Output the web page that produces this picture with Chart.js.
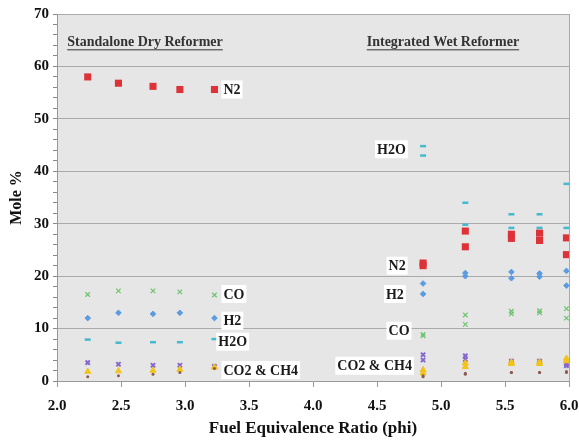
<!DOCTYPE html>
<html>
<head>
<meta charset="utf-8">
<script src="https://cdn.jsdelivr.net/npm/chart.js@4/dist/chart.umd.min.js"></script>
<style>
html,body{margin:0;padding:0;background:#fff;}
#wrap{width:579px;height:441px;position:relative;}
</style>
</head>
<body>
<div id="wrap"><canvas id="c" width="579" height="441"></canvas></div>
<script>
// ---- Data ----
const dryX = [2.24, 2.48, 2.75, 2.96, 3.23];
const wetX = [4.86, 4.86, 5.19, 5.19, 5.55, 5.55, 5.77, 5.77, 5.98, 5.98];

const dryN2  = [58.0, 56.8, 56.2, 55.6, 55.6];
const dryCO  = [16.5, 17.2, 17.2, 17.0, 16.4];
const dryH2  = [12.0, 13.0, 12.8, 13.0, 12.0];
const dryH2O = [7.9, 7.3, 7.4, 7.4, 8.0];
const dryCO2 = [3.5, 3.2, 3.0, 3.0, 2.8];
const dryCH4 = [1.8, 1.9, 2.0, 2.2, 2.6];
const dryOther = [0.8, 1.0, 1.3, 1.6, 2.4];

const wetH2O = [44.8, 43.0, 34.0, 29.8, 31.8, 29.2, 31.8, 29.2, 37.6, 29.2];
const wetN2  = [22.5, 22.0, 28.6, 25.6, 28.0, 27.2, 28.2, 26.8, 27.3, 24.1];
const wetH2  = [18.6, 16.6, 20.6, 20.0, 20.8, 19.6, 20.5, 19.9, 21.0, 18.2];
const wetCO  = [8.9, 8.6, 12.6, 10.8, 13.3, 12.8, 13.4, 13.0, 13.8, 12.0];
const wetCO2 = [5.0, 4.0, 4.8, 4.1, 3.8, 3.4, 3.8, 3.4, 3.2, 2.9];
const wetCH4 = [2.1, 1.5, 3.4, 2.7, 3.6, 3.3, 3.6, 3.3, 4.3, 3.8];
const wetOther = [0.8, 1.0, 1.3, 1.5, 1.6, 1.6, 1.6, 1.6, 1.6, 1.8];

// Text annotations
const noteTexts = ["N2", "CO", "H2", "H2O", "CO2 & CH4", "H2O", "N2", "H2", "CO", "CO2 & CH4"];
const noteX = [3.30, 3.30, 3.30, 3.26, 3.30, 4.50, 4.59, 4.57, 4.59, 4.19];
const noteY = [55.6, 16.6, 11.5, 7.5, 2.1, 44.2, 22.0, 16.6, 9.6, 2.9];
const headTexts = ["Standalone Dry Reformer", "Integrated Wet Reformer"];
const headX = [2.08, 4.42];
const headY = [64.6, 64.6];

const xTitle = "Fuel Equivalence Ratio (phi)";
const yTitle = "Mole %";

// ---- Build ----
function pts(xa, ya){ return xa.map((x,i)=>({x:x, y:ya[i]})); }
function both(d, w){ return pts(dryX, d).concat(pts(wetX, w)); }

const FONT = "'Liberation Serif', 'DejaVu Serif', serif";

const datasets = [
  {label:"Other", data: both(dryOther, wetOther), pointStyle:'circle', pointRadius:1.5, backgroundColor:'#8a5a50', borderColor:'#8a5a50', borderWidth:0},
  {label:"CH4", data: both(dryCH4, wetCH4), pointStyle:'triangle', pointRadius:3.5, backgroundColor:'#f2c318', borderColor:'#f2c318', borderWidth:1},
  {label:"CO2", data: both(dryCO2, wetCO2), pointStyle:'crossRot', pointRadius:3, backgroundColor:'#8466cc', borderColor:'#8466cc', borderWidth:2},
  {label:"H2O", data: both(dryH2O, wetH2O), pointStyle:'line', pointRadius:3, backgroundColor:'#45b9cf', borderColor:'#45b9cf', borderWidth:2.5},
  {label:"H2", data: both(dryH2, wetH2), pointStyle:'rectRot', pointRadius:2.8, backgroundColor:'#5b9be0', borderColor:'#5b9be0', borderWidth:1},
  {label:"CO", data: both(dryCO, wetCO), pointStyle:'crossRot', pointRadius:3.2, backgroundColor:'#6cc46c', borderColor:'#6cc46c', borderWidth:1.2},
  {label:"N2", data: both(dryN2, wetN2), pointStyle:'rect', pointRadius:5, backgroundColor:'#dc3238', borderColor:'#dc3238', borderWidth:0}
];

const bgPlugin = {
  id:'bg',
  beforeDraw(chart){
    const {ctx, chartArea:a} = chart;
    ctx.save();
    ctx.fillStyle = '#e6e6e6';
    ctx.fillRect(a.left, a.top, a.right - a.left, a.bottom - a.top);
    ctx.restore();
  },
  afterDraw(chart){
    const {ctx, chartArea:a} = chart;
    ctx.save();
    ctx.strokeStyle = '#a8a8a8';
    ctx.lineWidth = 1;
    ctx.beginPath();
    ctx.moveTo(Math.round(a.right)+0.5, a.top);
    ctx.lineTo(Math.round(a.right)+0.5, a.bottom);
    ctx.stroke();
    ctx.restore();
  }
};

const notePlugin = {
  id:'notes',
  afterDatasetsDraw(chart){
    const {ctx, scales:{x, y}} = chart;
    ctx.save();
    ctx.textBaseline = 'middle';
    ctx.textAlign = 'left';
    ctx.font = "bold 14px " + FONT;
    noteTexts.forEach((t,i)=>{
      const px = x.getPixelForValue(noteX[i]);
      const py = y.getPixelForValue(noteY[i]);
      const w = ctx.measureText(t).width;
      ctx.fillStyle = '#ffffff';
      ctx.fillRect(px - 2, py - 9, w + 4, 18);
      ctx.fillStyle = '#1a1a1a';
      ctx.fillText(t, px, py + 1);
    });
    ctx.font = "bold 14px " + FONT;
    headTexts.forEach((t,i)=>{
      const px = x.getPixelForValue(headX[i]);
      const py = y.getPixelForValue(headY[i]);
      const w = ctx.measureText(t).width;
      ctx.fillStyle = '#333333';
      ctx.fillText(t, px, py);
      ctx.fillRect(px, py + 7, w, 1);
    });
    ctx.restore();
  }
};

new Chart(document.getElementById('c'), {
  type:'scatter',
  data:{datasets},
  options:{
    responsive:false,
    animation:false,
    layout:{padding:{top:14, right:0, left:0, bottom:0}},
    plugins:{legend:{display:false}, tooltip:{enabled:false}},
    scales:{
      x:{
        type:'linear', min:2, max:6,
        afterFit(s){ s.height = 60; s.paddingRight = 10; },
        ticks:{stepSize:0.5, color:'#111', font:{family:FONT, size:15, weight:'bold'}, padding:10,
          callback:(v)=>v.toFixed(1)},
        grid:{drawOnChartArea:false, drawTicks:true, tickLength:6, color:'#999'},
        border:{color:'#999', width:1},
        title:{display:true, text:xTitle, color:'#111', font:{family:FONT, size:17, weight:'bold'}, padding:{top:0,bottom:2}}
      },
      y:{
        type:'linear', min:0, max:70,
        afterFit(s){ s.width = 57; },
        ticks:{stepSize:2, autoSkip:false, color:'#111', font:{family:FONT, size:15, weight:'bold'}, padding:4,
          callback:(v)=> (Math.round(v)%10===0 ? String(v) : '')},
        grid:{
          color:(c)=> (c.tick && Math.round(c.tick.value)%10===0 && c.tick.value>0 ? '#ababab' : 'rgba(0,0,0,0)'),
          tickColor:'#888',
          tickLength:4, drawTicks:true
        },
        border:{color:'#999', width:1},
        title:{display:true, text:yTitle, color:'#111', font:{family:FONT, size:16, weight:'bold'}, padding:{top:7,bottom:0}}
      }
    }
  },
  plugins:[bgPlugin, notePlugin]
});
</script>
</body>
</html>
